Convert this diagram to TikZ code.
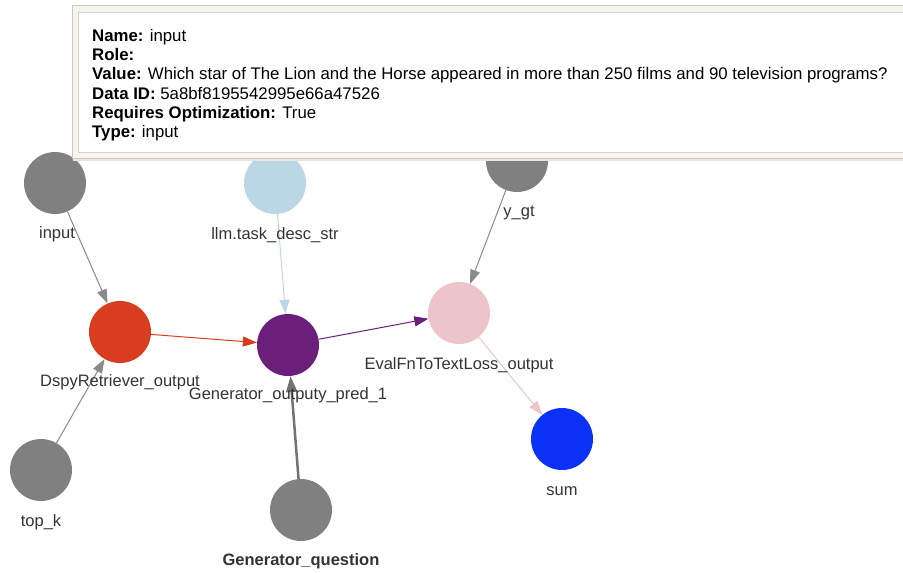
\documentclass[tikz,border=0pt]{standalone}
\usepackage{fontspec}
\setmainfont{Liberation Sans}
\usetikzlibrary{arrows.meta,backgrounds}
\definecolor{vgray}{HTML}{808080}
\definecolor{egray}{HTML}{8A8A8A}
\definecolor{vblue}{HTML}{BBD7E6}
\definecolor{vred}{HTML}{D93C1E}
\definecolor{vpurple}{HTML}{6B1F7B}
\definecolor{vpink}{HTML}{EEC4CB}
\definecolor{vsum}{HTML}{0B32F6}
\definecolor{labcol}{HTML}{333333}
\definecolor{tipbg}{HTML}{F5F4EE}
\definecolor{tipline}{HTML}{C9C8C0}
\begin{document}
\begin{tikzpicture}[x=1pt,y=-1pt,
  vert/.style={circle,minimum size=62pt,inner sep=0pt},
  lab/.style={text=labcol,font=\fontsize{16.5}{18}\selectfont},
  edge/.style={line width=1pt,-{Triangle[length=14pt,width=10pt]}},
  tip/.style={anchor=base west,inner sep=0pt,font=\fontsize{16.8}{18}\selectfont}]
\useasboundingbox (0,0) rectangle (903,573);
\node[vert,fill=vgray] (input) at (55,183) {};
\node[lab] (inputlab) at (57,234) {input};
\node[vert,fill=vblue] (llm) at (275,183) {};
\node[lab] (llmlab) at (275,235) {llm.task\_desc\_str};
\node[vert,fill=vgray] (ygt) at (517,161) {};
\node[lab] (ygtlab) at (519,213) {y\_gt};
\node[vert,fill=vred] (dspy) at (120,332) {};
\node[lab] (dspylab) at (120,382) {DspyRetriever\_output};
\node[vert,fill=vpurple] (gen) at (288,345) {};
\node[lab] (genlab) at (288,395) {Generator\_outputy\_pred\_1};
\node[vert,fill=vpink] (eval) at (459,313) {};
\node[lab] (evallab) at (459,365) {EvalFnToTextLoss\_output};
\node[vert,fill=vsum] (sum) at (562,439) {};
\node[lab] (sumlab) at (562,491) {sum};
\node[vert,fill=vgray] (topk) at (41,470) {};
\node[lab] (topklab) at (41,522) {top\_k};
\node[vert,fill=vgray] (genq) at (301,510) {};
\node[lab,font=\fontsize{16.5}{18}\selectfont\bfseries] (genqlab) at (301,561) {Generator\_question};
\begin{scope}[on background layer]
\draw[edge,egray] (input) -- (dspy);
\draw[edge,egray] (topk) -- (dspy);
\draw[edge,vblue] (llm) -- (gen);
\draw[edge,vred] (dspy) -- (gen);
\draw[edge,black!55,line width=2.5pt,-{Triangle[length=16pt,width=11pt]}] (genq) -- (gen);
\draw[edge,vpurple] (gen) -- (eval);
\draw[edge,egray] (ygt) -- (eval);
\draw[edge,vpink] (eval) -- (sum);
\end{scope}
% tooltip
\fill[black!10] (73,7) rectangle (915,161);
\draw[fill=tipbg,draw=tipline] (72,5) rectangle (915,158);
\draw[fill=white,draw=tipline!80] (78,12) rectangle (915,152);
\node[tip] (tname) at (92,41) {\textbf{Name:} input};
\node[tip] (trole) at (92,60) {\textbf{Role:}};
\node[tip] (tvalue) at (92,79) {\textbf{Value:} Which star of The Lion and the Horse appeared in more than 250 films and 90 television programs?};
\node[tip] (tid) at (92,99) {\textbf{Data ID:} 5a8bf8195542995e66a47526};
\node[tip] (topt) at (92,118) {\textbf{Requires Optimization:} True};
\node[tip] (ttype) at (92,137) {\textbf{Type:} input};
\end{tikzpicture}
\end{document}
